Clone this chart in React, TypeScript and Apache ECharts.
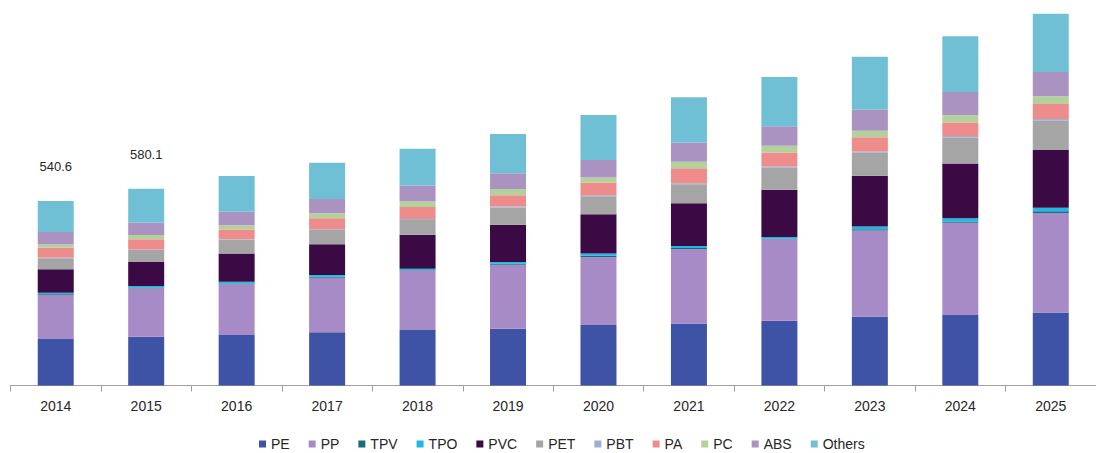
import React, { useEffect, useRef } from "react";
import * as echarts from "echarts";

const years = ["2014", "2015", "2016", "2017", "2018", "2019", "2020", "2021", "2022", "2023", "2024", "2025"];
const seriesNames = ["PE", "PP", "TPV", "TPO", "PVC", "PET", "PBT", "PA", "PC", "ABS", "Others"];

const PE = [136, 143, 148, 156, 163, 166, 177, 182, 190, 202, 207, 214];
const PP = [130, 142, 149, 160, 173, 188, 200, 218, 239, 252, 270, 292];
const TPV = [2, 2, 2, 3, 2, 3, 3, 3, 2, 4, 4, 5];
const TPO = [4, 5, 5, 5, 4, 5, 7, 6, 4, 8, 9, 10];
const PVC = [69, 70, 83, 90, 100, 109, 115, 125, 139, 149, 161, 169];
const PET = [32, 35, 40, 42, 43, 51, 53, 56, 64, 67, 76, 86];
const PBT = [2, 2, 2, 2, 3, 3, 3, 3, 4, 4, 4, 5];
const PA = [29, 30, 28, 32, 35, 33, 37, 44, 41, 42, 40, 44];
const PC = [9, 12, 13, 15, 16, 18, 15, 19, 20, 19, 21, 23];
const ABS = [37, 37, 39, 42, 47, 46, 51, 56, 57, 61, 68, 71];
const Others = [91, 99, 105, 106, 108, 115, 132, 133, 144, 156, 164, 171];

const totalLabels = ["540.6", "580.1"];

const seriesData = [PE, PP, TPV, TPO, PVC, PET, PBT, PA, PC, ABS, Others];
const colors = ["#3F53A6", "#A78BC7", "#1A6B77", "#1EB8E6", "#3B0A45", "#A5A5A5", "#9BB0D3", "#EE8C8B", "#B3D19A", "#AB93C1", "#70C0D5"];

export default function App() {
  const ref = useRef<HTMLDivElement>(null);
  useEffect(() => {
    if (!ref.current) return;
    const chart = echarts.init(ref.current, null, { renderer: "svg" });
    const font = "Arial, 'Liberation Sans', sans-serif";
    chart.setOption({
      animation: false,
      color: colors,
      grid: { left: 10.5, top: 0, width: 1094.4, height: 385.5, containLabel: false },
      legend: {
        data: seriesNames,
        left: 254,
        top: 432,
        itemWidth: 7,
        itemHeight: 7,
        itemGap: 19,
        icon: "rect",
        textStyle: { fontSize: 14, color: "#262626", fontFamily: font },
      },
      xAxis: {
        type: "category",
        data: years,
        axisLine: { lineStyle: { color: "#A0A0A0", width: 1 } },
        axisTick: { show: true, length: 6, lineStyle: { color: "#A0A0A0" } },
        axisLabel: { fontSize: 14, color: "#262626", fontFamily: font, margin: 13 },
      },
      yAxis: {
        type: "value",
        min: 0,
        max: 1130,
        show: false,
        splitLine: { show: false },
      },
      series: seriesNames.map((name, i) => ({
        name,
        type: "bar",
        stack: "total",
        barWidth: 36,
        data: seriesData[i],
        itemStyle: { color: colors[i] },
        label:
          i === seriesNames.length - 1
            ? {
                show: true,
                position: "top",
                distance: 28,
                fontSize: 13,
                color: "#262626",
                fontFamily: font,
                formatter: (p: any) => (p.dataIndex < totalLabels.length ? totalLabels[p.dataIndex] : ""),
              }
            : { show: false },
      })),
    });
    return () => chart.dispose();
  }, []);
  return (
    <div
      ref={ref}
      style={{ position: "fixed", left: 0, top: 0, width: 1096, height: 453, background: "#fff" }}
    />
  );
}
